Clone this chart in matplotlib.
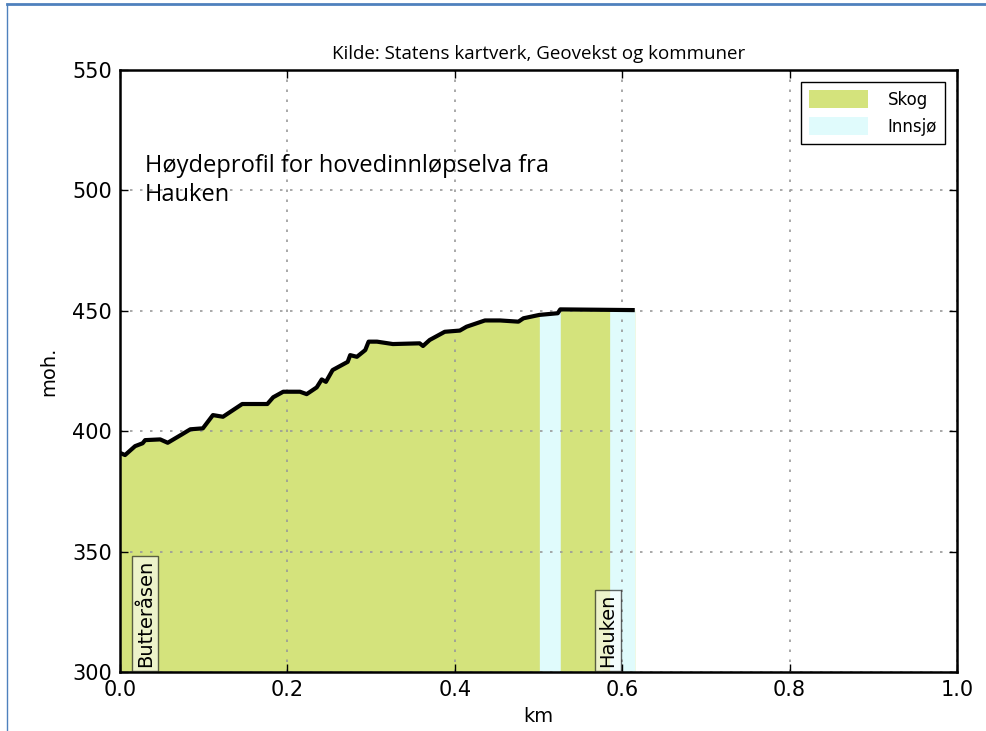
import matplotlib.pyplot as plt
import numpy as np
from matplotlib.patches import Patch
from matplotlib.lines import Line2D

# Profile data (distance in km, elevation in m above sea level)
km = [0.000, 0.006, 0.018, 0.027, 0.030, 0.048, 0.057, 0.074, 0.084, 0.099,
      0.111, 0.123, 0.146, 0.176, 0.183, 0.195, 0.215, 0.223, 0.235, 0.241,
      0.246, 0.254, 0.272, 0.275, 0.283, 0.293, 0.297, 0.307, 0.326, 0.358,
      0.362, 0.370, 0.388, 0.406, 0.414, 0.436, 0.454, 0.476, 0.482, 0.501,
      0.523, 0.526, 0.585, 0.615]
moh = [391.0, 390.1, 393.8, 395.0, 396.3, 396.6, 395.2, 398.7, 400.8, 401.2,
       406.7, 406.0, 411.3, 411.3, 414.1, 416.4, 416.4, 415.4, 418.2, 421.5,
       420.5, 425.4, 428.8, 431.6, 430.9, 433.7, 437.2, 437.2, 436.2, 436.5,
       435.4, 437.9, 441.3, 441.8, 443.4, 446.0, 446.0, 445.5, 446.9, 448.3,
       449.0, 450.6, 450.4, 450.3]

# Lake stretches (start km, end km)
lakes = [(0.501, 0.526), (0.585, 0.615)]

# Place names
places = ['Butteråsen', 'Hauken']
place_km = [0.030, 0.583]

skog = '#d4e37c'
innsjo = '#e0fbfc'

x = np.array(km)
y = np.array(moh)

fig = plt.figure(figsize=(9.87, 7.31), dpi=100)
ax = fig.add_axes([0.1216, 0.0807, 0.848, 0.8235])

ax.fill_between(x, 300, y, color=skog, linewidth=0)
for a, b in lakes:
    ax.fill_between(x, 300, y, where=(x >= a) & (x <= b), color=innsjo, linewidth=0)
ax.plot(x, y, color='black', linewidth=3, solid_capstyle='butt')

for name, pos in zip(places, place_km):
    ax.text(pos, 302, name, rotation=90, ha='center', va='bottom', fontsize=14,
            bbox=dict(facecolor='white', alpha=0.6, edgecolor='black', pad=2.5))

ax.text(0.03, 504, 'Høydeprofil for hovedinnløpselva fra\nHauken', fontsize=17,
        family='Open Sans', linespacing=1.3, va='center')

ax.set_xlim(0, 1)
ax.set_ylim(300, 550)
ax.set_xticks(np.arange(0, 1.01, 0.2))
ax.set_yticks(np.arange(300, 551, 50))
ax.tick_params(direction='in', labelsize=15, length=6, width=1, top=True, right=True, pad=6)
ax.grid(True, linestyle=(0, (1.5, 4.5)), color='#999999', linewidth=1.2)
for s in ax.spines.values():
    s.set_linewidth(1.8)

ax.set_xlabel('km', fontsize=14, labelpad=5)
ax.set_ylabel('moh.', fontsize=14, labelpad=10)
ax.set_title('Kilde: Statens kartverk, Geovekst og kommuner', fontsize=13.5,
             family='Open Sans', pad=8)

ax.legend(handles=[Patch(facecolor=skog, edgecolor='none', label='Skog'),
                   Patch(facecolor=innsjo, edgecolor='none', label='Innsjø')],
          loc='upper right', fontsize=12, fancybox=False, edgecolor='black',
          framealpha=1, borderaxespad=0.7, handlelength=3.5, handleheight=1.3,
          handletextpad=1.2, borderpad=0.5)

# blue frame from the screenshot border
fig.add_artist(Line2D([0.007, 1.0], [0.994, 0.994], color='#4f81bd', linewidth=2))
fig.add_artist(Line2D([0.007, 0.007], [0.0, 0.994], color='#4f81bd', linewidth=1))

fig.savefig('out.png', dpi=100)
